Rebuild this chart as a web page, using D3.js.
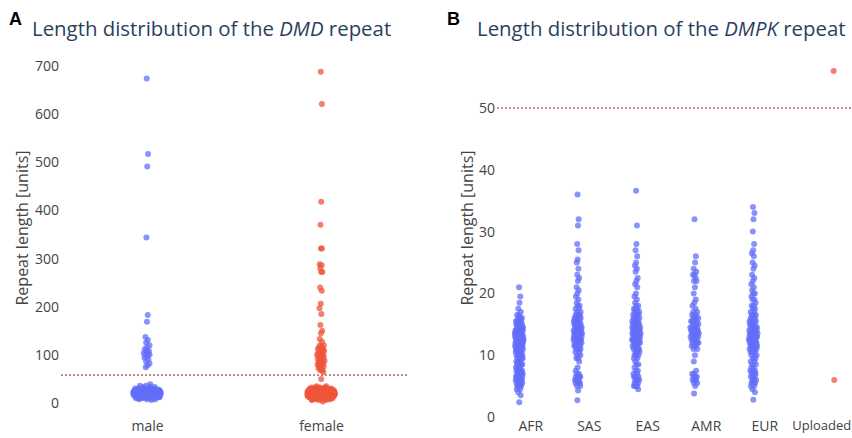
<!DOCTYPE html>
<html>
<head>
<meta charset="utf-8">
<script src="https://cdn.jsdelivr.net/npm/d3@7"></script>
<style>
  body { margin: 0; background: #fff; }
  text { font-family: "Open Sans", sans-serif; }
</style>
</head>
<body>
<div id="chart"></div>
<script>
// [value, count] pairs
const maleCounts = [[674,1],[517,1],[491,1],[344,1],[183,1],[169,1],[137,1],[131,1],[125,1],[120,1],[116,1],[112,1],[108,2],[104,2],[100,2],[97,1],[94,1],[90,1],[86,1],[82,1],[78,1],[74,1],
  [39,1],[36,2],[33,3],[30,6],[28,10],[26,14],[24,18],[22,22],[20,24],[18,22],[16,18],[14,14],[12,10],[10,6],[8,3],[6,1]];
const femaleCounts = [[688,1],[621,1],[418,1],[370,1],[321,2],[288,1],[286,1],[280,1],[272,2],[240,1],[233,1],[206,1],[197,1],[185,1],[162,1],[150,1],[145,1],[133,1],[127,1],
  [120,2],[116,2],[112,3],[108,3],[104,2],[100,3],[96,3],[92,3],[88,2],[84,3],[80,3],[76,2],[72,2],[68,2],[64,1],[50,1],
  [35,2],[32,4],[30,8],[28,14],[26,20],[24,26],[22,30],[20,32],[18,30],[16,26],[14,20],[12,14],[10,10],[8,6],[6,3],[3,1]];
const dmdCategories = ["male", "female"];
const dmdTicks = [0, 100, 200, 300, 400, 500, 600, 700];
const dmdThreshold = 58;

const popCategories = ["AFR", "SAS", "EAS", "AMR", "EUR", "Uploaded"];
const afrCounts = [[21,1],[19.5,1],[18.5,1],[17.5,1],[17,1],[16.5,2],[16,3],[15.5,5],[15,5],[14.5,7],[14,7],[13.5,8],[13,8],[12.5,8],[12,8],[11.5,7],[11,7],[10.5,5],[10,5],[9.5,4],[9,4],[8.5,4],[8,4],[7.5,5],[7,5],[6.5,6],[6,6],[5.5,5],[5,4],[4.5,2],[4,1],[3.5,1],[2.4,1]];
const sasCounts = [[36,1],[32,1],[31,1],[28,1],[27,1],[25.5,1],[25,1],[24,1],[23,1],[22.5,1],[22,1],[21,1],[20.5,1],[20,1],[19.5,1],[19,1],[18.5,1],[18,2],[17.5,2],[17,2],[16.5,4],[16,4],[15.5,5],[15,5],[14.5,6],[14,6],[13.5,7],[13,7],[12.5,6],[12,6],[11.5,4],[11,4],[10.5,2],[10,2],[9.5,2],[9,1],[8,1],[7.5,1],[7,2],[6.5,4],[6,4],[5.5,4],[5,2],[4.3,1],[2.7,1]];
const easCounts = [[36.6,1],[31,1],[28,1],[27,1],[26,1],[25,1],[24.5,1],[24,1],[23.5,1],[22.5,1],[22,1],[21.5,1],[21,1],[20,1],[19.5,1],[19,1],[18.5,1],[18,2],[17.5,3],[17,3],[16.5,4],[16,4],[15.5,5],[15,5],[14.5,6],[14,6],[13.5,7],[13,7],[12.5,6],[12,6],[11.5,4],[11,4],[10.5,3],[10,3],[9.5,2],[9,1],[8.5,2],[8,1],[7.5,2],[7,2],[6.5,4],[6,4],[5.5,3],[5,3],[4.5,1]];
const amrCounts = [[32,1],[26,1],[25,1],[24,1],[23.5,1],[23,2],[22.5,1],[22,2],[21,1],[20,1],[19,1],[18.5,1],[18,1],[17.5,1],[17,2],[16.5,3],[16,3],[15.5,4],[15,4],[14.5,5],[14,5],[13.5,5],[13,5],[12.5,4],[12,4],[11.5,3],[11,2],[10,1],[9,1],[7.5,1],[7,2],[6.5,3],[6,3],[5.5,2],[5,1],[3.8,1]];
const eurCounts = [[34,1],[33,1],[32,1],[30,1],[28,1],[27,1],[26.5,1],[26,1],[25,1],[24.5,1],[24,1],[23,1],[22.5,1],[22,1],[21.5,1],[21,1],[20.5,1],[20,2],[19.5,1],[19,2],[18.5,1],[18,2],[17.5,2],[17,2],[16.5,3],[16,3],[15.5,4],[15,4],[14.5,5],[14,5],[13.5,6],[13,6],[12.5,6],[12,6],[11.5,5],[11,5],[10.5,3],[10,3],[9.5,2],[9,2],[8.5,2],[8,2],[7.5,3],[7,3],[6.5,3],[6,3],[5.5,3],[5,2],[4.5,1],[4,1],[2.8,1]];
const uploadedValues = [56, 6];
const dmpkTicks = [0, 10, 20, 30, 40, 50];
const dmpkThreshold = 50;

const blue = "#636efa", red = "#EF553B";
const textColor = "#444", titleColor = "#2a3f5f";

const svg = d3.select("#chart").append("svg")
    .attr("width", 852).attr("height", 438);

function expand(pairs) {
  const out = [];
  pairs.forEach(([v, n]) => { for (let k = 0; k < n; k++) out.push(v); });
  return out;
}

// density-scaled jitter, like plotly's box points
function jitter(values, bw, halfWidth) {
  const dens = values.map(v => values.filter(w => Math.abs(w - v) <= bw).length);
  const maxD = d3.max(dens);
  return values.map((v, i) => {
    const u = ((i * 0.6180339887 + 0.37) % 1) - 0.5;
    return u * 2 * halfWidth * Math.sqrt(dens[i] / maxD);
  });
}

function drawStrip(g, values, cx, y, color, bw, halfWidth) {
  const off = jitter(values, bw, halfWidth);
  g.append("g").selectAll("circle")
    .data(values)
    .join("circle")
    .attr("cx", (d, i) => cx + off[i])
    .attr("cy", d => y(d))
    .attr("r", 3)
    .attr("fill", color)
    .attr("fill-opacity", 0.75);
}

function yTitle(x, yc) {
  svg.append("text")
    .attr("transform", `translate(${x},${yc}) rotate(-90)`)
    .attr("text-anchor", "middle")
    .attr("font-size", 16)
    .attr("fill", textColor)
    .text("Repeat length [units]");
}

function panelTitle(letter, lx, tx, gene) {
  svg.append("text")
    .attr("x", lx).attr("y", 25)
    .style("font-family", "Liberation Sans, Arial, sans-serif")
    .attr("font-weight", "bold").attr("font-size", 18)
    .attr("fill", "#000").text(letter);
  const t = svg.append("text")
    .attr("x", tx).attr("y", 36)
    .attr("font-size", 20.4)
    .attr("fill", titleColor);
  t.append("tspan").text("Length distribution of the ");
  t.append("tspan").attr("font-style", "italic").text(gene);
  t.append("tspan").text(" repeat");
}

function styleAxis(ax) {
  ax.select(".domain").remove();
  ax.selectAll("text").attr("font-size", 14).attr("fill", textColor).style("font-family", "Open Sans");
}

// ---- panel A: DMD
const yA = d3.scaleLinear().domain([0, 700]).range([403, 66]);
const xA = d3.scalePoint().domain(dmdCategories).range([60, 408]).padding(0.5);

styleAxis(svg.append("g").attr("transform", "translate(59,0)")
    .call(d3.axisLeft(yA).tickValues(dmdTicks).tickSize(0).tickPadding(0)));

svg.append("line")
    .attr("x1", 61).attr("x2", 408)
    .attr("y1", yA(dmdThreshold)).attr("y2", yA(dmdThreshold))
    .attr("stroke", "#7a1f2b").attr("stroke-width", 1)
    .attr("stroke-dasharray", "2,2");

const gA = svg.append("g");
drawStrip(gA, expand(maleCounts), xA("male"), yA, blue, 12, 14);
drawStrip(gA, expand(femaleCounts), xA("female"), yA, red, 12, 14);

styleAxis(svg.append("g").attr("transform", "translate(0,421)")
    .call(d3.axisBottom(xA).tickSize(0).tickPadding(0)));

yTitle(28, 228);
panelTitle("A", 9, 32, "DMD");

// ---- panel B: DMPK
const yB = d3.scaleLinear().domain([0, 50]).range([417, 108]);
const xB = d3.scalePoint().domain(popCategories).range([501, 852]).padding(0.5);

styleAxis(svg.append("g").attr("transform", "translate(495,0)")
    .call(d3.axisLeft(yB).tickValues(dmpkTicks).tickSize(0).tickPadding(0)));

svg.append("line")
    .attr("x1", 497).attr("x2", 852)
    .attr("y1", yB(dmpkThreshold)).attr("y2", yB(dmpkThreshold))
    .attr("stroke", "#7a1f2b").attr("stroke-width", 1)
    .attr("stroke-dasharray", "2,2");

const pops = [["AFR", afrCounts], ["SAS", sasCounts], ["EAS", easCounts], ["AMR", amrCounts], ["EUR", eurCounts]];
const gB = svg.append("g");
pops.forEach(([name, counts]) => {
  drawStrip(gB, expand(counts), xB(name) - 11, yB, blue, 1.5, 4.5);
});
drawStrip(gB, uploadedValues, xB("Uploaded") + 11, yB, red, 1.5, 0.5);

const axBx = svg.append("g").attr("transform", "translate(0,421)")
    .call(d3.axisBottom(xB).tickSize(0).tickPadding(0));
styleAxis(axBx);
axBx.selectAll("text").filter(d => d === "Uploaded")
    .attr("font-size", 13).attr("text-anchor", "end").attr("x", 28);

yTitle(473, 228);
panelTitle("B", 447, 477, "DMPK");
</script>
</body>
</html>
